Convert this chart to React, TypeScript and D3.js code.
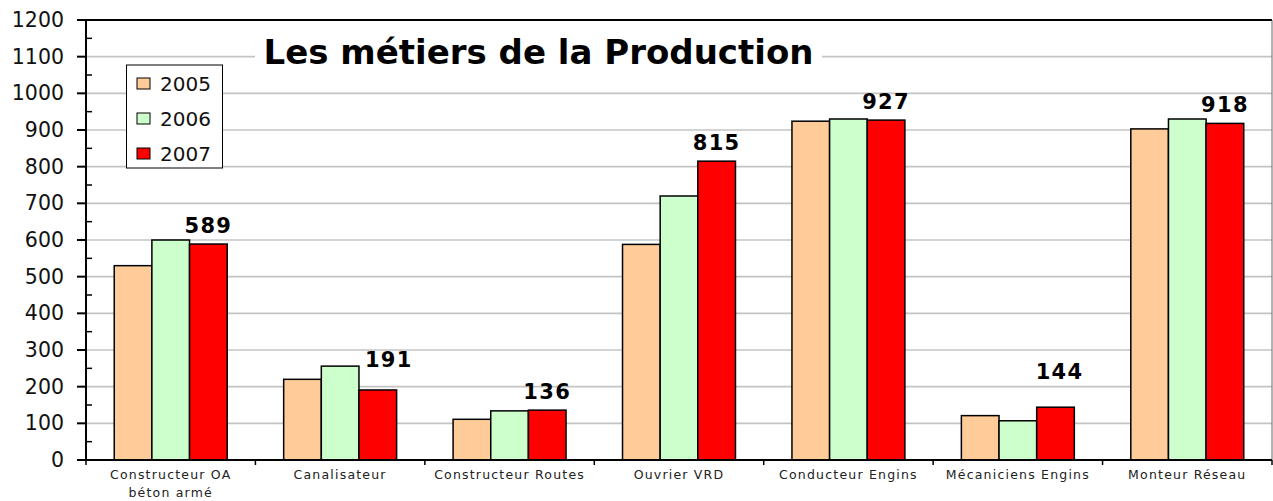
import React from "react";
import * as d3 from "d3";

// categories and yearly values
const categories = [
  "Constructeur OA|béton armé",
  "Canalisateur",
  "Constructeur Routes",
  "Ouvrier VRD",
  "Conducteur Engins",
  "Mécaniciens Engins",
  "Monteur Réseau",
];
const years = ["2005", "2006", "2007"];
const values2005 = [530, 220, 111, 588, 924, 121, 903];
const values2006 = [600, 256, 134, 720, 930, 107, 930];
const values2007 = [589, 191, 136, 815, 927, 144, 918];
const colors = ["#FFCC99", "#CCFFCC", "#FF0000"];
const yTicks = [0, 100, 200, 300, 400, 500, 600, 700, 800, 900, 1000, 1100, 1200];
// manual nudges of the 2007 labels [dx, dy]
const labelNudge = [[0, 0], [11, -12], [0, 0], [0, 0], [0, 0], [4, -17], [0, 0]];

const W = 1273;
const H = 501;
const left = 86;
const right = 1272;
const top = 20;
const bottom = 460;
const axisFont = "'DejaVu Sans', Verdana, sans-serif";

const App = () => {
  const series = [values2005, values2006, values2007];

  const x0 = d3.scaleBand<string>()
    .domain(categories)
    .range([left, right])
    .paddingInner(1 / 3)
    .paddingOuter(1 / 6);

  const x1 = d3.scaleBand<string>()
    .domain(years)
    .range([0, x0.bandwidth()]);

  const y = d3.scaleLinear()
    .domain([0, 1200])
    .range([bottom, top]);

  const minorTicks = yTicks.slice(0, -1).map(t => t + 50);
  const step = x0.step();
  const boundaries = d3.range(categories.length + 1).map(i => left + i * step);

  return (
    <svg width={W} height={H} style={{ position: "absolute", left: 0, top: 0, background: "#fff" }}>
      {/* gridlines */}
      {yTicks.slice(1, -1).map(t => (
        <line key={t} x1={left} x2={right} y1={y(t)} y2={y(t)} stroke="#c4c4c4" strokeWidth={1.6} />
      ))}
      {/* frame */}
      <line x1={left} x2={right} y1={y(1200)} y2={y(1200)} stroke="#000" strokeWidth={2} />
      <line x1={right} x2={right} y1={top} y2={bottom} stroke="#666" strokeWidth={1} />

      {/* title */}
      <rect x={255} y={30} width={567} height={46} fill="#fff" />
      <text x={538.5} y={64} textAnchor="middle" fontFamily={axisFont} fontWeight="bold" fontSize={34}>
        Les métiers de la Production
      </text>

      {/* bars */}
      {categories.map((c, i) => (
        <g key={c} transform={`translate(${x0(c)},0)`}>
          {years.map((yr, j) => (
            <rect
              key={yr}
              x={x1(yr)}
              y={y(series[j][i])}
              width={x1.bandwidth()}
              height={bottom - y(series[j][i])}
              fill={colors[j]}
              stroke="#000"
              strokeWidth={1.5}
            />
          ))}
          <text
            x={(x1("2007") as number) + x1.bandwidth() / 2 + labelNudge[i][0]}
            y={y(values2007[i]) - 11 + labelNudge[i][1]}
            textAnchor="middle"
            fontFamily={axisFont}
            fontWeight="bold"
            fontSize={21}
            letterSpacing={1.3}
          >
            {values2007[i]}
          </text>
        </g>
      ))}

      {/* y axis */}
      <line x1={left} x2={left} y1={top} y2={bottom} stroke="#000" strokeWidth={2} />
      {yTicks.map(t => (
        <g key={t}>
          <line x1={left - 9} x2={left} y1={y(t)} y2={y(t)} stroke="#000" strokeWidth={2} />
          <text x={64} y={y(t) + 7} textAnchor="end" fontFamily={axisFont} fontSize={20.5} fill="#111">
            {t}
          </text>
        </g>
      ))}
      {minorTicks.map(t => (
        <line key={t} x1={left} x2={left + 6} y1={y(t)} y2={y(t)} stroke="#000" strokeWidth={1.5} />
      ))}

      {/* x axis */}
      <line x1={left - 9} x2={right} y1={bottom} y2={bottom} stroke="#000" strokeWidth={2} />
      {boundaries.map((b, i) => (
        <line key={i} x1={b} x2={b} y1={bottom} y2={bottom + 5} stroke="#000" strokeWidth={1.5} />
      ))}
      {categories.map(c => (
        <text
          key={c}
          x={(x0(c) as number) + x0.bandwidth() / 2}
          y={479}
          textAnchor="middle"
          fontFamily={axisFont}
          fontSize={12.5}
          letterSpacing={1.2}
          fill="#222"
        >
          {c.split("|").map((line, k) => (
            <tspan key={k} x={(x0(c) as number) + x0.bandwidth() / 2} dy={k === 0 ? 0 : 17.5}>
              {line}
            </tspan>
          ))}
        </text>
      ))}

      {/* legend */}
      <rect x={126.5} y={65} width={96} height={103} fill="#fff" stroke="#000" strokeWidth={1} />
      {years.map((yr, j) => (
        <g key={yr} transform={`translate(0, ${j * 35})`}>
          <rect x={137} y={78} width={13} height={11} fill={colors[j]} stroke="#000" strokeWidth={1} />
          <text x={160} y={91} fontFamily={axisFont} fontSize={20} fill="#111">
            {yr}
          </text>
        </g>
      ))}
    </svg>
  );
};

export default App;
